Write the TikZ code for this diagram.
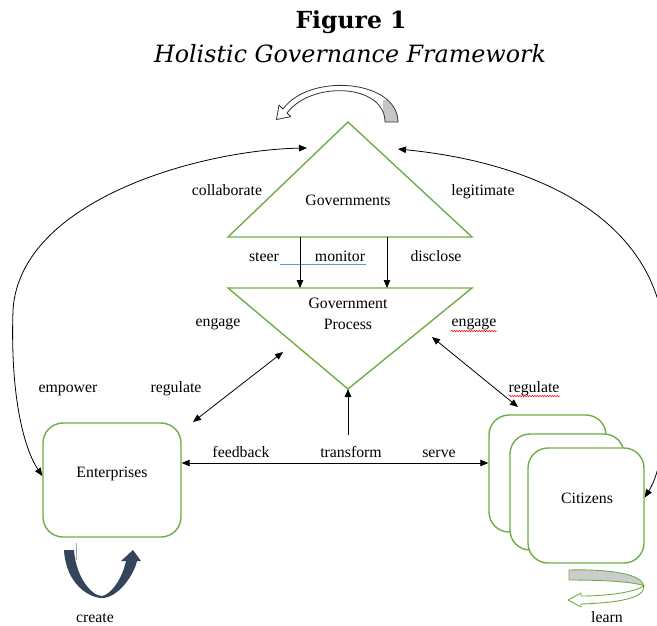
\documentclass[tikz,border=0pt]{standalone}
\usepackage{fontspec}
\setmainfont{Liberation Serif}
\newfontfamily\titlefont{DejaVu Serif}
\usetikzlibrary{arrows.meta,decorations.pathmorphing}
\definecolor{grn}{HTML}{70AD47}
\definecolor{navyc}{HTML}{34445A}
\definecolor{ulblue}{HTML}{5B9BD5}
\newcommand\toparrowpath{(398,122) .. controls (398,80) and (310,72) .. (283,109) -- (279,105) -- (276.5,119.5) -- (290.7,116.7) -- (287,113) .. controls (312,80) and (385,84) .. (385,122) -- cycle}
\begin{document}
\begin{tikzpicture}[x=1pt,y=-1pt,
  lbl/.style={font=\fontsize{15.8}{21}\selectfont, inner sep=0pt, text height=10.5pt, text depth=3.5pt},
  conn/.style={line width=0.8pt, -{Triangle[length=8pt,width=6.5pt]}},
  dconn/.style={line width=0.8pt, {Triangle[length=8pt,width=6.5pt]}-{Triangle[length=8pt,width=6.5pt]}},
  gbox/.style={draw=grn, line width=1.4pt, rounded corners=20pt, fill=white, inner sep=0pt},
  tri/.style={draw=grn, line width=1.4pt},
  wavy/.style={red, line width=0.5pt, decorate, decoration={snake, amplitude=0.7pt, segment length=2.5pt}}]
\useasboundingbox (0,0) rectangle (657,625);

% title
\node[font=\titlefont\bfseries\fontsize{23.5}{28}\selectfont, inner sep=0pt] (title) at (351,22) {Figure 1};
\node[font=\titlefont\itshape\fontsize{23.8}{28}\selectfont, inner sep=0pt] (sub) at (350,54) {Holistic Governance Framework};

% top self arrow
\fill[white] \toparrowpath;
\begin{scope}
  \clip (383,100) rectangle (405,126);
  \fill[gray!45] \toparrowpath;
\end{scope}
\draw[black!80, line width=0.8pt, line join=round] \toparrowpath;

% triangles
\coordinate (gT) at (348,122);
\coordinate (gBL) at (228,237);
\coordinate (gBR) at (472,237);
\draw[tri] (gT) -- (gBR) -- (gBL) -- cycle;
\coordinate (pTL) at (228,288);
\coordinate (pTR) at (472,288);
\coordinate (pB) at (348,389);
\draw[tri] (pTL) -- (pTR) -- (pB) -- cycle;

% boxes
\node[gbox, minimum width=138pt, minimum height=114pt] (ent) at (112,480) {};
\node[lbl] (entT) at (112,474) {Enterprises};
\node[gbox, minimum width=117pt, minimum height=117pt] (cit1) at (547.5,473.5) {};
\node[gbox, minimum width=114pt, minimum height=116pt] (cit2) at (567,492) {};
\node[gbox, minimum width=116pt, minimum height=115pt] (cit3) at (586,505.5) {};
\node[lbl] (citT) at (587,500) {Citizens};

% labels
\node[lbl] (gov) at (348,202) {Governments};
\node[lbl, align=center, text height=, text depth=] (proc) at (348,313.5) {Government\\Process};
\node[lbl] (collab) at (227,192) {collaborate};
\node[lbl] (legit) at (483,192) {legitimate};
\node[lbl] (steer) at (264,258) {steer};
\node[lbl] (monitor) at (340,258) {monitor};
\node[lbl] (disclose) at (436,258) {disclose};
\node[lbl] (engL) at (218,323) {engage};
\node[lbl] (engR) at (474,323) {engage};
\node[lbl] (regL) at (176,389) {regulate};
\node[lbl] (empower) at (68,389) {empower};
\node[lbl] (regR) at (534,389) {regulate};
\node[lbl] (feedback) at (241,454) {feedback};
\node[lbl] (transform) at (351,454) {transform};
\node[lbl] (serve) at (439,454) {serve};
\node[lbl] (create) at (95,619) {create};
\node[lbl] (learn) at (607,619) {learn};

% underlines
\draw[ulblue, line width=0.9pt] (280,264) -- (366,264);
\draw[wavy] (451,331) -- (497,331);
\draw[wavy] (509,396) -- (560,396);

% connectors
\coordinate (s1) at (300,237); \coordinate (s2) at (300,288);
\coordinate (d1) at (387,237); \coordinate (d2) at (387,288);
\draw[conn] (s1) -- (s2);
\draw[conn] (d1) -- (d2);
\coordinate (eL1) at (193,422); \coordinate (eL2) at (283,352);
\coordinate (eR1) at (432,337); \coordinate (eR2) at (518,407);
\draw[dconn] (eL1) -- (eL2);
\draw[dconn] (eR1) -- (eR2);
\coordinate (tr0) at (348,435);
\draw[conn] (tr0) -- (pB);
\draw[dconn] ([yshift=17pt]ent.east) -- ([yshift=10.5pt]cit1.west);
\coordinate (gL) at (307,148);
\coordinate (gR) at (398,149);
\draw[dconn] (gL) .. controls (200,150) and (20,200) .. (13,310) .. controls (10,400) and (25,450) .. ([yshift=4pt]ent.west);
\draw[dconn] (gR) .. controls (540,163) and (652,220) .. (664,330) .. controls (670,420) and (662,470) .. ([yshift=8pt]cit3.east);

% create arrow
\draw[gray!70, line width=0.6pt] (76,543) -- (76,560);
\fill[navyc] (64,550) .. controls (66,585) and (90,598) .. (102,598) .. controls (118,598) and (134,575) .. (137,561)
  -- (141,561) -- (133,550) -- (121,561) -- (126,561)
  .. controls (122,580) and (110,595) .. (102,596) .. controls (92,596) and (76,578) .. (74,550) -- cycle;

% learn arrow
\filldraw[fill=gray!40, draw=grn, line width=0.9pt, line join=round] (569,570) .. controls (610,569) and (642,574) .. (644,586) .. controls (636,582) and (605,580) .. (569,580) -- cycle;
\filldraw[fill=white, draw=grn, line width=0.9pt, line join=round] (644,586) .. controls (645,600) and (610,603) .. (581,604) -- (581,607) -- (568,600) -- (581,593) -- (581,596) .. controls (605,596) and (632,593) .. (644,586) -- cycle;
\end{tikzpicture}
\end{document}
